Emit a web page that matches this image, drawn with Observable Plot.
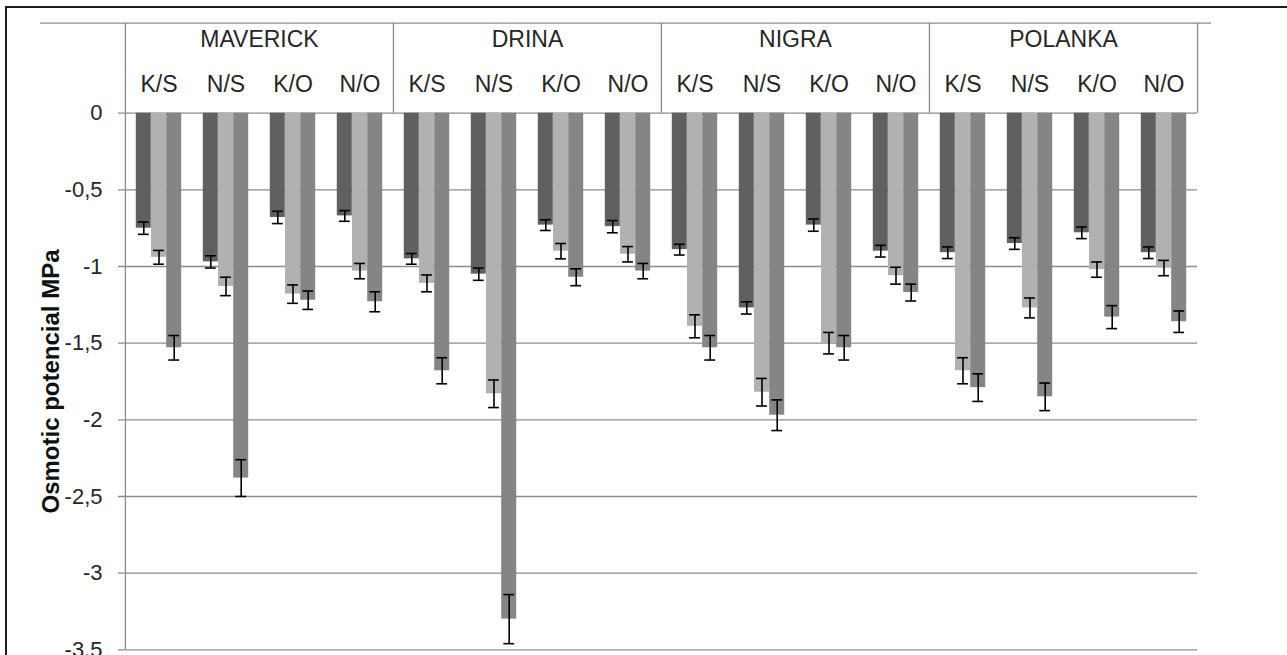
<!DOCTYPE html>
<html><head><meta charset="utf-8">
<script src="https://cdn.jsdelivr.net/npm/d3@7"></script>
<script src="https://cdn.jsdelivr.net/npm/@observablehq/plot@0.6"></script>
<style>
body{margin:0;background:#fff;overflow:hidden}
#wrap{position:relative;width:1287px;height:655px;overflow:hidden}
#border{position:absolute;left:5px;top:6px;width:1400px;height:800px;border-left:2.5px solid #1c1c1c;border-top:2.5px solid #1c1c1c;pointer-events:none}
#chart svg{display:block}
</style></head><body>
<div id="wrap"><div id="chart"></div><div id="border"></div></div>
<script>
// ---- data ----
const groups = ["MAVERICK", "DRINA", "NIGRA", "POLANKA"];
const subgroups = ["K/S", "N/S", "K/O", "N/O"];
const seriesNames = ["Series 1", "Series 2", "Series 3"];
const seriesColors = ["#606060", "#b1b1b1", "#858585"];

// values in group order, 4 subgroups each (K/S, N/S, K/O, N/O)
const series1 = [-0.75, -0.97, -0.68, -0.67,  -0.95, -1.05, -0.73, -0.74,  -0.89, -1.27, -0.73, -0.90,  -0.91, -0.85, -0.78, -0.91];
const series2 = [-0.94, -1.13, -1.18, -1.03,  -1.11, -1.83, -0.90, -0.92,  -1.39, -1.82, -1.50, -1.06,  -1.68, -1.27, -1.02, -1.01];
const series3 = [-1.53, -2.38, -1.22, -1.23,  -1.68, -3.30, -1.07, -1.03,  -1.53, -1.97, -1.53, -1.17,  -1.79, -1.85, -1.33, -1.36];
const errors1 = [0.04, 0.04, 0.04, 0.035,  0.035, 0.04, 0.035, 0.04,  0.035, 0.04, 0.04, 0.038,  0.038, 0.038, 0.038, 0.038];
const errors2 = [0.045, 0.06, 0.06, 0.05,  0.055, 0.09, 0.05, 0.05,  0.075, 0.09, 0.07, 0.055,  0.085, 0.065, 0.05, 0.05];
const errors3 = [0.08, 0.12, 0.06, 0.065,  0.085, 0.16, 0.055, 0.05,  0.08, 0.10, 0.08, 0.055,  0.09, 0.09, 0.075, 0.07];

const yTicks = [0, -0.5, -1, -1.5, -2, -2.5, -3, -3.5];
const yLabel = "Osmotic potencial MPa";

// ---- build table ----
const seriesValues = [series1, series2, series3];
const seriesErrors = [errors1, errors2, errors3];
const rows = [];
seriesValues.forEach((vals, si) => vals.forEach((v, k) => rows.push({
  g: groups[Math.floor(k / subgroups.length)], s: subgroups[k % subgroups.length], si, v, e: seriesErrors[si][k]
})));
const gridRows = groups.flatMap(g => yTicks.map(y => ({g, y})));

// ---- layout ----
const W = 1287, H = 655, mL = 123, mR = 89, mT = 112.7, mB = 5.7;
const step = (W - mL - mR) / (groups.length * subgroups.length);
const barW = 15.2;
const offsets = [-barW, 0, barW];
const inset = (step - barW) / 2;
const capInset = (step - 11) / 2;
const pxPerUnit = (H - mT - mB) / 3.5;
const headerTop = (mT - 22.7) / pxPerUnit;
const lineColor = "#8c8c8c";
const textColor = "#262626";
const fmt = d => String(d).replace(".", ",");

const marks = [
  Plot.ruleY(gridRows.filter(d => d.g === groups[0]), {fx: "g", y: "y", stroke: lineColor, strokeWidth: 1.3, insetLeft: -7}),
  Plot.ruleY(gridRows.filter(d => d.g !== groups[0]), {fx: "g", y: "y", stroke: lineColor, strokeWidth: 1.3}),
  // header table lines
  Plot.ruleY([{g: groups[0]}], {fx: "g", y: () => headerTop, stroke: lineColor, strokeWidth: 1.3, insetLeft: -85}),
  Plot.ruleY(groups.slice(1, -1).map(g => ({g})), {fx: "g", y: () => headerTop, stroke: lineColor, strokeWidth: 1.3}),
  Plot.ruleY([{g: groups[groups.length - 1]}], {fx: "g", y: () => headerTop, stroke: lineColor, strokeWidth: 1.3, insetRight: -14}),
  Plot.ruleX([{g: groups[0]}], {fx: "g", x: () => subgroups[0], dx: -step / 2, y1: -3.5, y2: () => headerTop, stroke: lineColor, strokeWidth: 1.3}),
  Plot.ruleX(groups.slice(1).map(g => ({g})), {fx: "g", x: () => subgroups[0], dx: -step / 2, y1: 0, y2: () => headerTop, stroke: lineColor, strokeWidth: 1.3}),
  Plot.ruleX([{g: groups[groups.length - 1]}], {fx: "g", x: () => subgroups[subgroups.length - 1], dx: step / 2, y1: 0, y2: () => headerTop, stroke: lineColor, strokeWidth: 1.3}),
  // header text
  Plot.text(groups, {fx: d => d, text: d => d, frameAnchor: "top", dy: -66.7, lineAnchor: "bottom", fontSize: 23, fill: textColor}),
  Plot.text(groups.flatMap(g => subgroups.map(s => ({g, s}))), {fx: "g", x: "s", text: "s", frameAnchor: "top", dy: -21, lineAnchor: "bottom", fontSize: 23, fill: textColor}),
  // bars and error bars
  ...seriesNames.flatMap((name, si) => {
    const d = rows.filter(r => r.si === si);
    return [
      Plot.barY(d, {fx: "g", x: "s", y: "v", fill: seriesColors[si], insetLeft: inset, insetRight: inset, dx: offsets[si], title: () => name}),
      Plot.ruleX(d, {fx: "g", x: "s", y1: r => r.v - r.e, y2: r => r.v + r.e, dx: offsets[si], stroke: "#000", strokeWidth: 1.6}),
      Plot.tickY(d, {fx: "g", x: "s", y: r => r.v - r.e, dx: offsets[si], insetLeft: capInset, insetRight: capInset, stroke: "#000", strokeWidth: 1.6}),
      Plot.tickY(d, {fx: "g", x: "s", y: r => r.v + r.e, dx: offsets[si], insetLeft: capInset, insetRight: capInset, stroke: "#000", strokeWidth: 1.6})
    ];
  }),
  // y axis labels
  Plot.axisY({ticks: yTicks, tickSize: 0, tickPadding: 23, tickFormat: fmt, fontSize: 22, fill: textColor, label: null}),
  Plot.text([yLabel], {fx: () => groups[0], frameAnchor: "left", rotate: -90, dx: -74, fontSize: 24, fontWeight: "bold", fill: "#111", textAnchor: "middle", lineAnchor: "middle"})
];

const chart = Plot.plot({
  width: W, height: H,
  marginLeft: mL, marginRight: mR, marginTop: mT, marginBottom: mB,
  style: {fontFamily: "'Liberation Sans', Arial, sans-serif", background: "#fff", overflow: "visible"},
  fx: {domain: groups, padding: 0, axis: null},
  x: {domain: subgroups, padding: 0, axis: null},
  y: {domain: [-3.5, 0], axis: null},
  marks
});
document.getElementById("chart").appendChild(chart);
</script>
</body></html>
